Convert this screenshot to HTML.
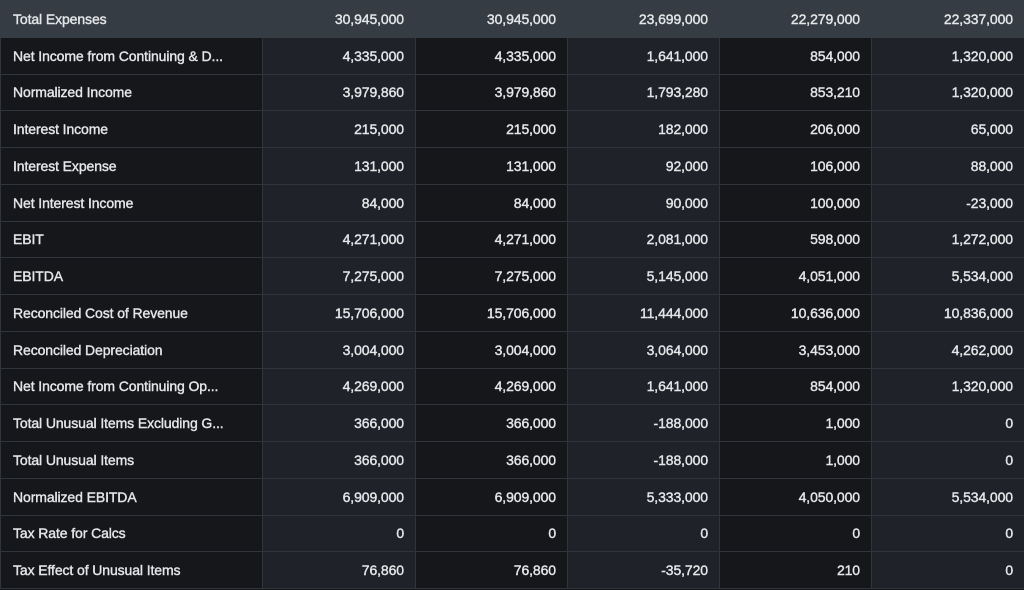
<!DOCTYPE html>
<html><head><style>
body{margin:0;background:#15171b;width:1024px;height:590px;overflow:hidden;font-family:"Liberation Sans",sans-serif;}
table{border-collapse:collapse;table-layout:fixed;width:1024px;}
td{height:35.75px;border:1px solid #30353b;color:#e4e6e8;font-size:14px;padding:0 11px 0 12px;text-align:right;white-space:nowrap;overflow:hidden;-webkit-text-stroke:0.4px #e4e6e8;letter-spacing:-0.1px;}
td:first-child{text-align:left;}
tr td:nth-child(odd){background:#15171b;}
tr td:nth-child(even){background:#1f2329;}
tr.h td{background:#353c43;border-color:#353c43;}
</style></head><body>
<table>
<colgroup><col style="width:262px"><col style="width:153px"><col style="width:152px"><col style="width:152px"><col style="width:152px"><col style="width:153px"></colgroup>
<tr class="h"><td>Total Expenses</td><td>30,945,000</td><td>30,945,000</td><td>23,699,000</td><td>22,279,000</td><td>22,337,000</td></tr>
<tr><td>Net Income from Continuing &amp; D...</td><td>4,335,000</td><td>4,335,000</td><td>1,641,000</td><td>854,000</td><td>1,320,000</td></tr>
<tr><td>Normalized Income</td><td>3,979,860</td><td>3,979,860</td><td>1,793,280</td><td>853,210</td><td>1,320,000</td></tr>
<tr><td>Interest Income</td><td>215,000</td><td>215,000</td><td>182,000</td><td>206,000</td><td>65,000</td></tr>
<tr><td>Interest Expense</td><td>131,000</td><td>131,000</td><td>92,000</td><td>106,000</td><td>88,000</td></tr>
<tr><td>Net Interest Income</td><td>84,000</td><td>84,000</td><td>90,000</td><td>100,000</td><td>-23,000</td></tr>
<tr><td>EBIT</td><td>4,271,000</td><td>4,271,000</td><td>2,081,000</td><td>598,000</td><td>1,272,000</td></tr>
<tr><td>EBITDA</td><td>7,275,000</td><td>7,275,000</td><td>5,145,000</td><td>4,051,000</td><td>5,534,000</td></tr>
<tr><td>Reconciled Cost of Revenue</td><td>15,706,000</td><td>15,706,000</td><td>11,444,000</td><td>10,636,000</td><td>10,836,000</td></tr>
<tr><td>Reconciled Depreciation</td><td>3,004,000</td><td>3,004,000</td><td>3,064,000</td><td>3,453,000</td><td>4,262,000</td></tr>
<tr><td>Net Income from Continuing Op...</td><td>4,269,000</td><td>4,269,000</td><td>1,641,000</td><td>854,000</td><td>1,320,000</td></tr>
<tr><td>Total Unusual Items Excluding G...</td><td>366,000</td><td>366,000</td><td>-188,000</td><td>1,000</td><td>0</td></tr>
<tr><td>Total Unusual Items</td><td>366,000</td><td>366,000</td><td>-188,000</td><td>1,000</td><td>0</td></tr>
<tr><td>Normalized EBITDA</td><td>6,909,000</td><td>6,909,000</td><td>5,333,000</td><td>4,050,000</td><td>5,534,000</td></tr>
<tr><td>Tax Rate for Calcs</td><td>0</td><td>0</td><td>0</td><td>0</td><td>0</td></tr>
<tr><td>Tax Effect of Unusual Items</td><td>76,860</td><td>76,860</td><td>-35,720</td><td>210</td><td>0</td></tr>
</table>
</body></html>
